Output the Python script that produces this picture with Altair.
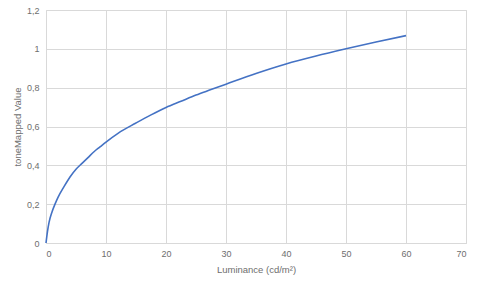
import altair as alt
import pandas as pd

luminance = [0, 0.25, 0.5, 1, 1.5, 2, 3, 4, 5, 6, 7, 8, 9, 10, 12, 15, 17.5, 20, 22.5, 25, 27.5, 30, 35, 40, 45, 50, 55, 60]
tone_mapped = [0, 0.06, 0.105, 0.16, 0.2, 0.235, 0.29, 0.34, 0.38, 0.41, 0.44, 0.47, 0.495, 0.52, 0.565, 0.618, 0.66, 0.698, 0.73, 0.762, 0.79, 0.818, 0.873, 0.922, 0.963, 1.0, 1.035, 1.068]

df = pd.DataFrame({"lum": luminance, "val": tone_mapped})

FONT = "Liberation Sans"
TXT = "#6e6e6e"
GRID = "#d9d9d9"

chart = alt.Chart(df).mark_line(color="#4472C4", strokeWidth=1.6, interpolate="monotone").encode(
    x=alt.X("lum:Q", title="Luminance (cd/m²)",
            scale=alt.Scale(domain=[0, 70], nice=False),
            axis=alt.Axis(values=[0, 10, 20, 30, 40, 50, 60, 70], grid=True, gridColor=GRID,
                          domain=True, domainColor=GRID, ticks=False, labelPadding=6,
                          labelFont=FONT, labelFontSize=9, labelColor=TXT,
                          titleFont=FONT, titleFontSize=9.5, titleColor=TXT, titleFontWeight="normal",
                          titlePadding=6)),
    y=alt.Y("val:Q", title="toneMapped Value",
            scale=alt.Scale(domain=[0, 1.2], nice=False),
            axis=alt.Axis(values=[0, 0.2, 0.4, 0.6, 0.8, 1.0, 1.2], grid=True, gridColor=GRID,
                          domain=False, ticks=False, labelPadding=7,
                          labelExpr="replace(format(datum.value, '~g'), '.', ',')",
                          labelFont=FONT, labelFontSize=9, labelColor=TXT,
                          titleFont=FONT, titleFontSize=9.5, titleColor=TXT, titleFontWeight="normal",
                          titlePadding=4)),
).properties(
    width=420, height=233,
    autosize=alt.AutoSizeParams(type="none"),
    padding={"left": 46, "top": 10, "right": 15, "bottom": 43},
).configure_view(stroke=None).configure(background="white")

chart.save("out.html", embed_options={"renderer": "svg", "actions": False})
